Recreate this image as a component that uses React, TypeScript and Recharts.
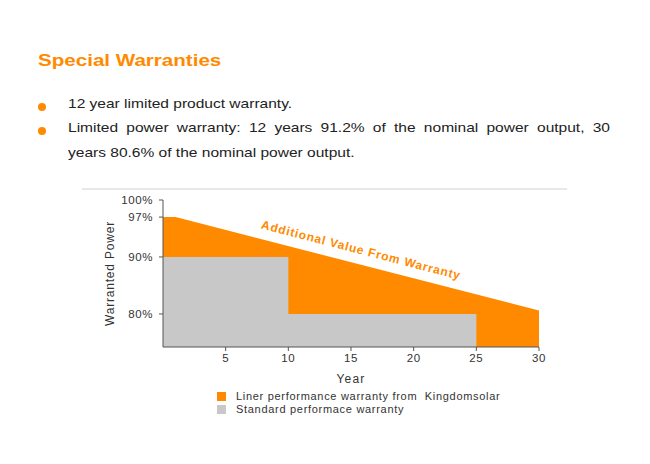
import React from 'react';
import { AreaChart, Area, XAxis, YAxis, ReferenceDot } from 'recharts';

// years on the x axis
const years = [0, 1, 10, 25, 30];
// Kingdomsolar linear warranty (% of nominal power)
const linerWarranty = [97, 97, null, null, 80.6];
// standard step warranty
const standardWarranty = [90, null, 80, 80, null];

const yTicks = [80, 90, 97, 100];
const xTicks = [5, 10, 15, 20, 25, 30];

const seriesNames = ['Liner performance warranty from  Kingdomsolar', 'Standard performace warranty'];
// each bullet: [first line part, remainder]
const bullets = [
  ['12 year limited product warranty.', ''],
  ['Limited power warranty: 12 years 91.2% of the nominal power output, 30 ', 'years 80.6% of the nominal power output.'],
];

const ORANGE = '#ff8a00';
const GRAY = '#c8c8c8';
const FONT = '"Liberation Sans", Arial, sans-serif';

const data = years.map((year, i) => ({
  year,
  liner: linerWarranty[i],
  standard: standardWarranty[i],
}));

const AnnotationLabel = (props: any) => {
  const { viewBox } = props;
  const cx = viewBox.x + (viewBox.width || 0) / 2;
  const cy = viewBox.y + (viewBox.height || 0) / 2;
  return (
    <text
      x={cx}
      y={cy}
      transform={`rotate(14.5 ${cx} ${cy})`}
      textAnchor="middle"
      dominantBaseline="central"
      fill={ORANGE}
      fontSize={12}
      fontWeight="bold"
      letterSpacing={0.8}
      fontFamily={FONT}
    >
      Additional Value From Warranty
    </text>
  );
};

const YLabel = (props: any) => {
  const { viewBox } = props;
  const cy = viewBox.y + viewBox.height / 2;
  const cx = 110;
  return (
    <text x={cx} y={cy} transform={`rotate(-90 ${cx} ${cy})`} textAnchor="middle" dominantBaseline="central"
      fill="#333" fontSize={12} letterSpacing={0.8} fontFamily={FONT}>
      Warranted Power
    </text>
  );
};

const tickStyle = { fill: '#333', fontSize: 11.5, fontFamily: FONT, letterSpacing: 0.6 };

export default function App() {
  return (
    <div style={{ position: 'absolute', left: 0, top: 0, width: 650, height: 464, background: '#fff', fontFamily: FONT, overflow: 'hidden' }}>
      <div style={{ position: 'absolute', left: 38, top: 51, fontSize: 17, fontWeight: 'bold', color: ORANGE, transform: 'scaleX(1.21)', transformOrigin: 'left top', whiteSpace: 'nowrap' }}>
        Special Warranties
      </div>

      {bullets.map(([first, rest], i) => (
        <div key={i} style={{ position: 'absolute', left: 36, top: i === 0 ? 95 : 119, width: 574, color: '#222', lineHeight: '25px' }}>
          <span style={{ position: 'absolute', left: 2, top: 8, width: 8, height: 8, borderRadius: 4, background: ORANGE }} />
          <div style={{ marginLeft: 32, width: 542 / 1.15, fontSize: 13.5, textAlign: 'justify', marginTop: -4, transform: 'scaleX(1.15)', transformOrigin: 'left top' }}>
            <span style={{ wordSpacing: rest ? 2.5 : 0 }}>{first}</span>
            {rest}
          </div>
        </div>
      ))}

      <div style={{ position: 'absolute', left: 82, top: 188, width: 485, height: 2, background: '#e8e8e8' }} />

      <div style={{ position: 'absolute', left: 0, top: 0 }}>
        <AreaChart width={650} height={464} data={data} margin={{ top: 200, right: 111, bottom: 87, left: 103 }}>
          <XAxis
            dataKey="year"
            type="number"
            domain={[0, 30]}
            ticks={xTicks}
            height={30}
            tickSize={4}
            tickMargin={3}
            stroke="#555"
            tick={tickStyle}
            label={{ value: 'Year', position: 'insideBottom', offset: -6, fill: '#333', fontSize: 12, fontFamily: FONT, letterSpacing: 1.2 }}
          />
          <YAxis
            type="number"
            domain={[74.2, 100]}
            ticks={yTicks}
            allowDataOverflow
            width={60}
            tickSize={4}
            tickMargin={6}
            stroke="#555"
            tickFormatter={(v) => `${v}%`}
            tick={tickStyle}
            label={<YLabel />}
          />
          <Area
            type="linear"
            dataKey="liner"
            name={seriesNames[0]}
            stroke="none"
            fill={ORANGE}
            fillOpacity={1}
            connectNulls
            baseValue="dataMin"
            isAnimationActive={false}
          />
          <Area
            type="stepAfter"
            dataKey="standard"
            name={seriesNames[1]}
            stroke="none"
            fill={GRAY}
            fillOpacity={1}
            connectNulls
            baseValue="dataMin"
            isAnimationActive={false}
          />
          <ReferenceDot x={15.8} y={91.2} r={0} fill="none" stroke="none" label={<AnnotationLabel />} />
        </AreaChart>
      </div>

      <div style={{ position: 'absolute', left: 217, top: 390, fontSize: 11, color: '#333', lineHeight: '13px' }}>
        {seriesNames.map((n, i) => (
          <div key={n} style={{ display: 'flex', alignItems: 'center', whiteSpace: 'pre' }}>
            <span style={{ display: 'inline-block', width: 9, height: 9, background: i === 0 ? ORANGE : GRAY, marginRight: 10 }} />
            <span style={{ letterSpacing: 0.7 }}>{n}</span>
          </div>
        ))}
      </div>
    </div>
  );
}
